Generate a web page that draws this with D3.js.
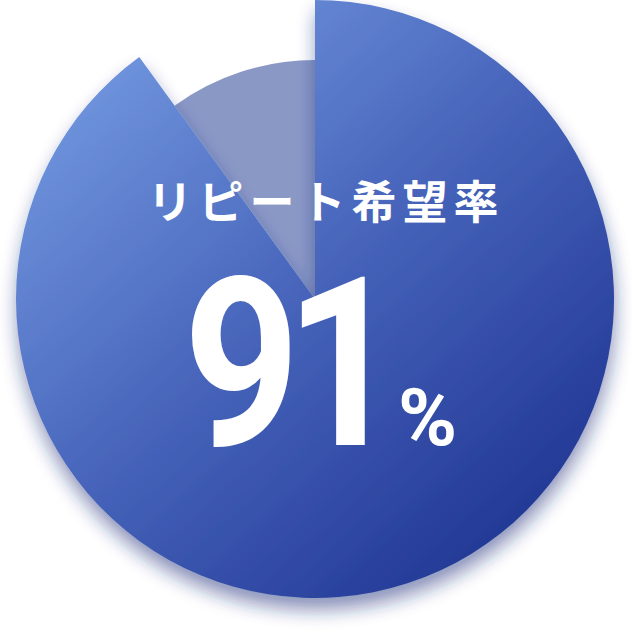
<!DOCTYPE html>
<html><head><meta charset="utf-8">
<script src="https://cdn.jsdelivr.net/npm/d3@7"></script>
<style>html,body{margin:0;padding:0;background:#fff;}svg{display:block;}</style>
</head><body>
<svg id="c" width="632" height="632"></svg>
<script>
const categories = ["リピート希望", "その他"];
const sliceShares = [90, 10];           // angular shares as drawn in the picture
const sliceRadii = [299, 239];          // outer radius of each slice (px)
const titleText = "リピート希望率";
const labelValue = "91";
const labelUnit = "%";

const svg = d3.select("#c");
const W = 632, H = 632, cx = 315, cy = 299;

const defs = svg.append("defs");
const grad = defs.append("linearGradient").attr("id","g1")
  .attr("gradientUnits","userSpaceOnUse")
  .attr("x1",-225).attr("y1",-259).attr("x2",245).attr("y2",261);
grad.append("stop").attr("offset",0).attr("stop-color","#7398e0");
grad.append("stop").attr("offset",0.5).attr("stop-color","#4461b8");
grad.append("stop").attr("offset",1).attr("stop-color","#1d3290");

const f = defs.append("filter").attr("id","sh").attr("x","-20%").attr("y","-20%").attr("width","140%").attr("height","140%");
f.append("feGaussianBlur").attr("in","SourceAlpha").attr("stdDeviation",9).attr("result","b");
f.append("feOffset").attr("in","b").attr("dx",1).attr("dy",12).attr("result","o");
f.append("feFlood").attr("flood-color","#1a2a78").attr("flood-opacity",0.5);
f.append("feComposite").attr("in2","o").attr("operator","in").attr("result","s");
const m = f.append("feMerge");
m.append("feMergeNode").attr("in","s");
m.append("feMergeNode").attr("in","SourceGraphic");

const pie = d3.pie().sort(null).value(d => d.v);
const data = pie(categories.map((c,i)=>({c, v: sliceShares[i], r: sliceRadii[i]})));
const fills = ["url(#g1)", "#8a98c6"];

const g = svg.append("g").attr("transform",`translate(${cx},${cy})`);
[1,0].forEach(i => {
  const d = data[i];
  const arc = d3.arc().innerRadius(0).outerRadius(d.data.r);
  g.append("path").attr("d", arc(d)).attr("fill", fills[i])
    .attr("filter", i===0 ? "url(#sh)" : null);
});

svg.append("text").attr("x",326).attr("y",219).attr("text-anchor","middle")
  .attr("font-family","'Noto Sans CJK JP', sans-serif").attr("font-weight",700)
  .attr("font-size",45).attr("letter-spacing",6).attr("fill","#fff").text(titleText);

svg.append("g").attr("transform","translate(192,445) scale(0.86,1)")
  .append("text").attr("x",-10).attr("y",0).attr("dx","0 -17")
  .attr("font-family","Roboto, sans-serif").attr("font-weight",700)
  .attr("font-size",236).attr("fill","#fff").text(labelValue);

svg.append("text").attr("x",398).attr("y",445)
  .attr("font-family","Roboto, sans-serif").attr("font-weight",700)
  .attr("font-size",80).attr("fill","#fff").text(labelUnit);
</script>
</body></html>
